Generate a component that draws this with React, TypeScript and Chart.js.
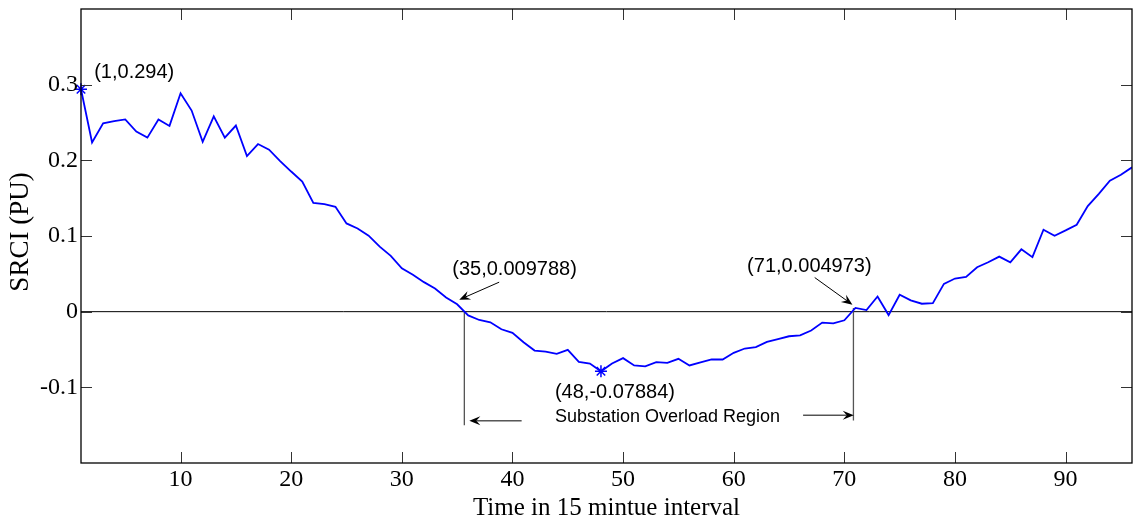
import React, { useEffect, useRef } from 'react';
import { Chart, registerables } from 'chart.js';

Chart.register(...registerables);

// ---- data ----
const intervals = [
  1, 2, 3, 4, 5, 6, 7, 8, 9, 10, 11, 12, 13, 14, 15, 16, 17, 18, 19, 20,
  21, 22, 23, 24, 25, 26, 27, 28, 29, 30, 31, 32, 33, 34, 35, 36, 37, 38, 39, 40,
  41, 42, 43, 44, 45, 46, 47, 48, 49, 50, 51, 52, 53, 54, 55, 56, 57, 58, 59, 60,
  61, 62, 63, 64, 65, 66, 67, 68, 69, 70, 71, 72, 73, 74, 75, 76, 77, 78, 79, 80,
  81, 82, 83, 84, 85, 86, 87, 88, 89, 90, 91, 92, 93, 94, 95, 96,
];

const srci = [
  0.294, 0.2237, 0.249, 0.2517, 0.254, 0.238, 0.23, 0.254, 0.2455, 0.2886,
  0.2658, 0.2245, 0.258, 0.23, 0.246, 0.2057, 0.2215, 0.214, 0.199, 0.1852,
  0.172, 0.1438, 0.142, 0.1386, 0.1166, 0.11, 0.1004, 0.0859, 0.0737, 0.0574,
  0.0487, 0.039, 0.0307, 0.0188, 0.009788, -0.005, -0.011, -0.014, -0.0233, -0.028,
  -0.0404, -0.0514, -0.0527, -0.0557, -0.0505, -0.0663, -0.0685, -0.07884, -0.0685, -0.0614,
  -0.0711, -0.0724, -0.0667, -0.0676, -0.0623, -0.0711, -0.0671, -0.0632, -0.0632, -0.0544,
  -0.0487, -0.0468, -0.04, -0.0364, -0.0325, -0.0312, -0.025, -0.0145, -0.0154, -0.0114,
  0.004973, 0.0021, 0.0201, -0.0045, 0.0224, 0.0149, 0.0105, 0.0113, 0.0368, 0.0438,
  0.046, 0.0587, 0.0653, 0.0728, 0.0653, 0.0824, 0.072, 0.1083, 0.1004, 0.1074,
  0.1149, 0.1395, 0.1557, 0.1732, 0.181, 0.1908,
];

const markedX = [1, 48];
const markedY = [0.294, -0.07884];

const xTicks = [10, 20, 30, 40, 50, 60, 70, 80, 90];
const yTicks = [-0.1, 0, 0.1, 0.2, 0.3];
const yTickLabels = ['-0.1', '0', '0.1', '0.2', '0.3'];

const regionStartX = 35.65;
const regionEndX = 70.82;

const xTitle = 'Time in 15 mintue interval';
const yTitle = 'SRCI (PU)';

// annotation texts (data coordinates)
const noteTexts = ['(1,0.294)', '(35,0.009788)', '(48,-0.07884)', '(71,0.004973)'];
const noteX = [2.19, 34.56, 43.84, 61.21];
const noteY = [0.3162, 0.0563, -0.1062, 0.0596];

const regionText = 'Substation Overload Region';
const regionTextX = 43.84;
const regionTextY = -0.1397;

// arrows: [fromX, fromY, toX, toY]
const arrows = [
  [38.8, 0.039, 35.19, 0.0158],
  [67.32, 0.0451, 70.73, 0.0092],
  [40.83, -0.1443, 36.1, -0.1443],
  [66.27, -0.1368, 70.85, -0.1368],
];

const SERIF = '"Liberation Serif", "Times New Roman", serif';
const SANS = '"Liberation Sans", Arial, sans-serif';

function drawArrow(ctx: CanvasRenderingContext2D, x1: number, y1: number, x2: number, y2: number) {
  const ang = Math.atan2(y2 - y1, x2 - x1);
  const len = 11;
  const half = 4.5;
  const notch = 7;
  ctx.beginPath();
  ctx.moveTo(x1, y1);
  ctx.lineTo(x2 - Math.cos(ang) * notch, y2 - Math.sin(ang) * notch);
  ctx.strokeStyle = '#000';
  ctx.lineWidth = 1;
  ctx.stroke();
  const bx = x2 - Math.cos(ang) * len;
  const by = y2 - Math.sin(ang) * len;
  const nx = x2 - Math.cos(ang) * notch;
  const ny = y2 - Math.sin(ang) * notch;
  const px = -Math.sin(ang);
  const py = Math.cos(ang);
  ctx.beginPath();
  ctx.moveTo(x2, y2);
  ctx.lineTo(bx + px * half, by + py * half);
  ctx.lineTo(nx, ny);
  ctx.lineTo(bx - px * half, by - py * half);
  ctx.closePath();
  ctx.fillStyle = '#000';
  ctx.fill();
}

const decorPlugin = {
  id: 'matlabDecor',
  afterDatasetsDraw(chart: any) {
    const ctx: CanvasRenderingContext2D = chart.ctx;
    const { left, right, top, bottom } = chart.chartArea;
    const xs = chart.scales.x;
    const ys = chart.scales.y;
    ctx.save();

    // ticks (inside, all four sides)
    const tl = 11;
    ctx.strokeStyle = '#333';
    ctx.lineWidth = 1;
    ctx.beginPath();
    xTicks.forEach((v) => {
      const px = Math.round(xs.getPixelForValue(v)) + 0.5;
      ctx.moveTo(px, bottom);
      ctx.lineTo(px, bottom - tl);
      ctx.moveTo(px, top);
      ctx.lineTo(px, top + tl);
    });
    yTicks.forEach((v) => {
      const py = Math.round(ys.getPixelForValue(v)) + 0.5;
      ctx.moveTo(left, py);
      ctx.lineTo(left + tl, py);
      ctx.moveTo(right, py);
      ctx.lineTo(right - tl, py);
    });
    ctx.stroke();

    // box
    ctx.strokeStyle = '#000';
    ctx.lineWidth = 1.3;
    ctx.strokeRect(left, top, right - left, bottom - top);

    // tick labels
    ctx.fillStyle = '#000';
    ctx.font = `24px ${SERIF}`;
    ctx.textAlign = 'right';
    ctx.textBaseline = 'middle';
    yTicks.forEach((v, i) => {
      ctx.fillText(yTickLabels[i], left - 3, ys.getPixelForValue(v));
    });
    ctx.textAlign = 'center';
    xTicks.forEach((v) => {
      ctx.fillText(String(v), xs.getPixelForValue(v), bottom + 17);
    });

    // axis titles
    ctx.font = `25px ${SERIF}`;
    ctx.fillText(xTitle, (left + right) / 2, bottom + 45);
    ctx.save();
    ctx.font = `27px ${SERIF}`;
    ctx.translate(21, (top + bottom) / 2 - 4);
    ctx.rotate(-Math.PI / 2);
    ctx.fillText(yTitle, 0, 0);
    ctx.restore();

    // annotation texts
    ctx.textAlign = 'left';
    ctx.font = `20px ${SANS}`;
    noteTexts.forEach((t, i) => {
      ctx.fillText(t, xs.getPixelForValue(noteX[i]), ys.getPixelForValue(noteY[i]));
    });
    ctx.font = `18px ${SANS}`;
    ctx.fillText(regionText, xs.getPixelForValue(regionTextX), ys.getPixelForValue(regionTextY));

    // arrows
    arrows.forEach((a) => {
      drawArrow(
        ctx,
        xs.getPixelForValue(a[0]),
        ys.getPixelForValue(a[1]),
        xs.getPixelForValue(a[2]),
        ys.getPixelForValue(a[3])
      );
    });

    ctx.restore();
  },
};

export default function App() {
  const canvasRef = useRef<HTMLCanvasElement | null>(null);

  useEffect(() => {
    if (!canvasRef.current) return;
    const mainData = intervals.map((x, i) => ({ x, y: srci[i] }));
    const markerData = markedX.map((x, i) => ({ x, y: markedY[i] }));
    const zeroLine = [
      { x: intervals[0], y: 0 },
      { x: intervals[intervals.length - 1], y: 0 },
    ];
    const leftBoundary = [
      { x: regionStartX, y: 0 },
      { x: regionStartX, y: -0.15 },
    ];
    const rightBoundary = [
      { x: regionEndX, y: 0.004973 },
      { x: regionEndX, y: -0.1437 },
    ];

    const chart = new Chart(canvasRef.current, {
      type: 'line',
      data: {
        datasets: [
          {
            data: markerData,
            showLine: false,
            pointStyle: 'star',
            pointRadius: 6,
            pointBorderColor: '#0000ff',
            pointBorderWidth: 1.5,
            borderColor: '#0000ff',
            clip: false,
          },
          {
            data: mainData,
            borderColor: '#0000ff',
            borderWidth: 1.8,
            pointRadius: 0,
            tension: 0,
            fill: false,
          },
          {
            data: leftBoundary,
            borderColor: '#555',
            borderWidth: 1.3,
            pointRadius: 0,
          },
          {
            data: rightBoundary,
            borderColor: '#555',
            borderWidth: 1.3,
            pointRadius: 0,
          },
          {
            data: zeroLine,
            borderColor: '#000',
            borderWidth: 1,
            pointRadius: 0,
          },
        ],
      },
      options: {
        animation: false,
        responsive: true,
        maintainAspectRatio: false,
        devicePixelRatio: 1,
        layout: { autoPadding: false, padding: { left: 81, right: 1, top: 9, bottom: 58 } },
        plugins: {
          legend: { display: false },
          tooltip: { enabled: false },
          title: { display: false },
        },
        elements: { line: { tension: 0 } },
        scales: {
          x: { type: 'linear', min: 1, max: 96, display: false },
          y: { type: 'linear', min: -0.2, max: 0.4, display: false },
        },
      },
      plugins: [decorPlugin],
    });
    return () => chart.destroy();
  }, []);

  return (
    <div
      style={{
        position: 'fixed',
        left: 0,
        top: 0,
        width: 1133,
        height: 521,
        background: '#fff',
      }}
    >
      <canvas ref={canvasRef} style={{ display: 'block' }} />
    </div>
  );
}
